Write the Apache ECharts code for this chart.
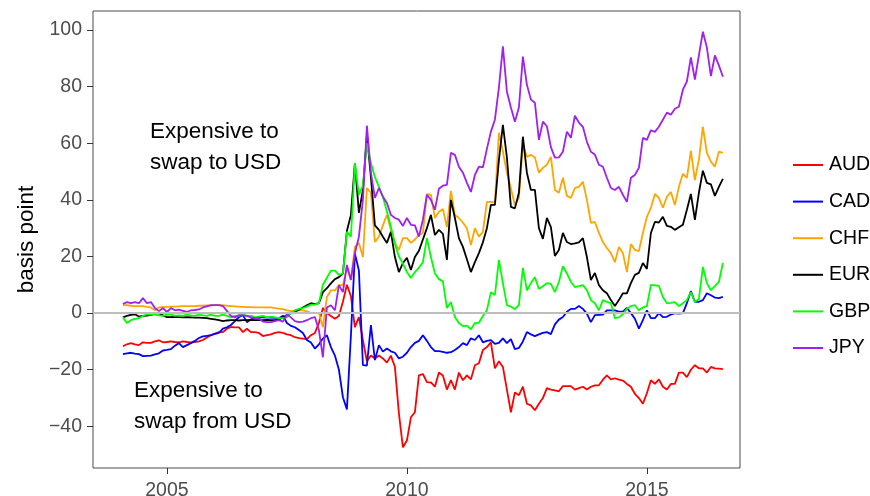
<!DOCTYPE html>
<html>
<head>
<meta charset="utf-8">
<title>Cross-currency basis</title>
<script src="https://cdn.jsdelivr.net/npm/echarts@6/dist/echarts.min.js"></script>
<style>
  html, body { margin: 0; padding: 0; background: #fff; }
  #chart { width: 870px; height: 496px; }
</style>
</head>
<body>
<div id="chart"></div>
<script>
// monthly basis, Jan 2004 .. Jul 2016 (month-end)
var startYear = 2004;
var currencies = ['AUD', 'CAD', 'CHF', 'EUR', 'GBP', 'JPY'];
var colors = ['#ff0000', '#0000ff', '#ffa500', '#000000', '#00ff00', '#a020f0'];
var xTicks = [2005, 2010, 2015];
var yTicks = [-40, -20, 0, 20, 40, 60, 80, 100];

var aud = [-11.7,-11,-10.6,-11,-11.3,-10.3,-10.5,-10.5,-10,-9.6,
  -10.3,-10.2,-10,-10.2,-10.3,-10,-10.2,-10.3,-10.2,-10,
  -9.5,-8.6,-7.8,-7.2,-6.7,-6.7,-5.5,-4.9,-5,-5,
  -6.7,-5.5,-6.7,-6.7,-7,-8.1,-7.8,-7.5,-7,-6.7,
  -7,-7.5,-7.8,-8.5,-8.8,-9,-9.2,-7.8,-7,-3.5,
  1.8,0,-1,-2,-1,4,10,6,-5,-1.4,
  -9.5,-17,-15,-16,-15,-16,-17.5,-15,-19,-35.4,
  -47.4,-45,-36.8,-35,-22,-21.5,-24.4,-24.5,-26,-21,
  -22,-27,-23.7,-27,-21,-23.7,-22,-23.4,-18.4,-17.7,
  -13,-12,-10.3,-19.5,-17,-19,-27,-35,-28,-29,
  -26,-32,-32.6,-34.3,-32,-30,-26.5,-27,-27.3,-27.6,
  -25.8,-25.8,-25.8,-27,-26.5,-26,-27,-26,-25.5,-25.5,
  -23.5,-22,-23.4,-23,-23.5,-23.8,-25,-26,-28.5,-30,
  -32,-28.3,-23.7,-25,-23.4,-26,-27,-25,-25,-21,
  -21,-22.6,-20,-18.4,-19.5,-19.5,-21,-19,-19.5,-19.6,
  -19.8];
var cad = [-14.5,-14.2,-14,-14.3,-14.5,-15.2,-15.1,-15,-14.6,-14.2,
  -13.2,-13,-12.7,-11.5,-10.6,-12,-11.3,-10.6,-9.8,-8.8,
  -8.2,-8,-7.8,-7.3,-7,-5.5,-5,-4.2,-2.8,-1.4,
  -0.7,-3.2,-2.2,-1.8,-1.4,-1.5,-1.6,-1.6,-1.7,-1.8,
  -0.9,-3.5,-4.5,-5,-6,-7,-9.5,-10.4,-12.5,-11,
  -9,-7.8,-12,-15,-20,-29.7,-34,-8,21,15,
  -18.4,-18.5,-4.2,-16.6,-11.3,-13.6,-12.5,-13.5,-14,-16,
  -15.4,-14,-12,-10.5,-9.8,-7.8,-9.8,-12,-13.4,-13.4,
  -13.7,-14,-13.8,-13,-12,-10.6,-11.3,-8.9,-9.5,-7.8,
  -10.3,-9.8,-9.5,-10.9,-10.5,-8.9,-10.6,-9.2,-12.7,-12.3,
  -10,-6.7,-7.5,-8.1,-7.5,-7,-6.7,-7.4,-4,-2.3,
  -1.4,0.5,1.5,1.5,2.5,1.5,-0.2,-3.2,-0.7,-0.6,
  -0.5,1,1,1,0.5,0.5,1.8,0,-2,-5.5,
  -2.5,1,-1.8,-1.8,0,-1.4,-1.3,-0.5,0,-0.2,
  0,3.5,7.8,4,4,4.6,7,6.3,5.5,5.3,
  5.7];
var chf = [2.8,2.8,2.6,2.5,2.5,2.5,2.2,2,1,2,
  2.1,2.2,2.3,2.3,2.4,2.5,2.5,2.5,2.5,2.6,
  2.6,2.7,2.7,2.8,2.8,2.8,2.6,2.5,2.4,2.3,
  2.2,2.1,2.1,2,2,2,2,2,1.8,1.6,
  1.4,1,0.7,0.8,1,1,0.6,0,0,0,
  -5,5.7,8,8,9.9,9.9,15.9,11.7,23.4,24.8,
  19.8,44.2,42.5,25.1,27,31,34.7,29.4,25,22.3,
  26.5,26.5,24.8,26,27.6,28.3,42,41.8,33.6,35.8,
  36.8,30.4,43.2,34.7,33.6,32,30,24,30,27,
  28.7,39.3,39.3,39,63.7,57,49.6,44,38.2,40.7,
  59.5,55.2,55.9,55,49.6,51.3,52.4,55.2,43.5,42.5,
  47.8,41.4,40.7,44.2,44.6,46.4,40,31.9,32.2,28.3,
  25.1,23,21.2,18,23.4,21.2,14.5,24.4,22.3,21.9,
  28.3,34,37.2,42.1,40.7,37.2,41.1,42.8,38.2,44.6,
  49.2,47.8,57.3,47,54.2,65.8,56.6,53.5,51.7,57,
  56.6];
var eur = [-1.5,-1,-0.6,-0.4,-1.2,-1,-0.9,-0.6,-0.3,0,
  -0.8,-1.4,-1.4,-1.3,-1.4,-1.5,-1.4,-1.5,-1.6,-1.6,
  -1.7,-1.8,-2,-2.2,-2.5,-2.8,-2.6,-2.5,-2.5,-2.6,
  -2.5,-2.5,-2.4,-2.5,-2.5,-2.5,-2.4,-2.5,-2.5,-2.3,
  -1.4,-0.8,0,0.5,1.2,2,2.8,3.5,3.2,3.5,
  7.4,8.8,10.5,12,12.7,14,29,34.7,53,35.4,
  43.5,63,48,31,29.4,27,24.8,28.7,19.8,14.5,
  17.7,19.5,15.2,19.8,22,26,30,34.7,27.6,29.4,
  28,18.8,40,33.6,26.5,23.4,19,14.5,18,21.2,
  25,30,38.2,38.2,54,66.5,55,37.5,37,42.5,
  62.3,49.6,43.5,43.5,30,26.2,33.6,30.4,20.2,22.3,
  28.3,25.1,24.4,24.6,25,26.5,19.8,11.7,14.2,9.9,
  8.1,7,4.6,2.5,4.6,7,7,10.6,13.5,14.2,
  17.7,15.6,28.3,32.2,32,34,30.8,30.5,29.4,30.3,
  31.2,36.5,42.1,32.9,42.5,50.3,46,45.5,41.4,44.6,
  47.4];
var gbp = [-1.5,-3.5,-2.5,-2,-1.8,-1,-0.4,-0.5,-0.5,-0.8,
  -1,-0.5,-0.5,-1,-0.8,-1,-0.5,-0.8,-1,-0.5,
  -0.8,-1,-0.5,-1,-1,-0.5,-1,-1.5,-1,-1,
  -0.5,-1,-1,-1.5,-1.2,-1,-1.5,-1.2,-1.5,-1.8,
  -1.8,-1.5,0,1,1.5,1.8,2.3,3,3,3.5,
  10,12.5,15,15,13.5,14,28.7,27,53,41.8,
  45,60,53,48,44.6,41,36,30.4,24.5,20,
  17.5,14.5,12.4,14.5,16,18,26.5,19.8,14,12,
  11.2,1.8,3.9,-1.4,-3.5,-4.6,-4.4,-5.7,-3.5,-3.4,
  -1,1,7.4,6.4,18.8,10.6,2.8,2.3,1.4,2.8,
  16,8,10.6,12.7,8.5,9.5,10.6,10.3,7.4,11,
  16.6,14,11,9.2,9.5,9.9,8.1,4.6,3.5,1,
  4.6,4,3.5,-1.8,-1.5,-0.4,1.5,2.5,2.8,1,
  2,2.5,10,9.8,9.6,5.7,3.5,3.6,3.9,2.5,
  3.5,4.6,7.4,3.9,5,16.3,10.6,8.1,9.5,11,
  17.7];
var jpy = [3.2,3.9,3.5,3.9,3.5,5.3,3.5,3.9,1.8,0.7,
  1.8,0.4,1.8,1,1.2,0.8,0.4,1,1.1,1.3,
  2,2.4,2.8,2.8,2.8,2.5,0.8,-1,-1.5,-0.7,
  -0.8,-1,-1.5,-1.8,-1.8,-3,-3.2,-3.2,-2.8,-2.5,
  -3,-0.5,-1.5,-2.8,-3.2,-3,-2.5,-1.8,-1.4,-6,
  -15.6,2,2.8,1,9.9,7.4,17,11.7,21.2,27,
  40,66.2,49.6,40.7,44.2,41.1,38.9,34.7,33.6,33,
  30.8,33.6,31.2,31,27,33,41.8,40,36.5,43.9,
  45,45.3,56.6,55.9,51.7,49.6,46,42.8,48.8,51.7,
  51.5,58,64.1,68.3,79.6,94.2,78.2,72.6,67.6,72.6,
  90.6,80.7,75.4,74.3,61.2,67.6,66,58.6,54.9,55,
  57,64.1,61.9,69.7,67.3,65.8,60.5,57,56,52.4,
  51.7,47.8,44.2,43.5,44.6,41.8,39.3,47.8,48.8,51.3,
  61.9,61.2,64.6,64,65.8,68.3,70.8,70.1,72.2,72.9,
  78.9,81.8,90.3,82.5,91,99.4,93.8,83.7,91,87.5,
  83.5];
var values = [aud, cad, chf, eur, gbp, jpy];

// decimal year of each month end
var dates = aud.map(function (v, i) { return startYear + (i + 1) / 12; });

var fontFamily = '"Liberation Sans", Arial, sans-serif';
var chart = echarts.init(document.getElementById('chart'), null, { renderer: 'canvas' });

var series = currencies.map(function (name, k) {
  var s = {
    name: name,
    type: 'line',
    data: values[k].map(function (v, i) { return [dates[i], v]; }),
    showSymbol: false,
    symbol: 'none',
    lineStyle: { width: 1.8, color: colors[k] },
    itemStyle: { color: colors[k] },
    animation: false
  };
  if (k === 0) {
    s.markLine = {
      silent: true,
      symbol: 'none',
      label: { show: false },
      lineStyle: { color: '#bebebe', width: 2, type: 'solid' },
      data: [{ yAxis: 0 }]
    };
  }
  return s;
});

var option = {
  backgroundColor: '#ffffff',
  animation: false,
  textStyle: { fontFamily: fontFamily },
  grid: {
    left: 93, right: 130, top: 11, bottom: 28,
    show: true, borderColor: '#4d4d4d', borderWidth: 1,
    containLabel: false,
    outerBoundsMode: 'none'
  },
  legend: {
    orient: 'vertical',
    left: 788,
    top: 150,
    icon: 'rect',
    itemWidth: 30,
    itemHeight: 2,
    itemGap: 16.6,
    data: currencies,
    textStyle: { fontSize: 19.5, color: '#000', fontFamily: fontFamily, lineHeight: 20, padding: [0, 0, 0, 1] }
  },
  xAxis: {
    type: 'value',
    min: 2003.46,
    max: 2016.94,
    splitLine: { show: false },
    axisLine: { show: false, onZero: false },
    axisTick: { show: true, length: 6, customValues: xTicks, lineStyle: { color: '#333' } },
    axisLabel: {
      customValues: xTicks, color: '#4d4d4d', fontSize: 19.5, margin: 13, fontFamily: fontFamily,
      formatter: function (v) { return String(v); }
    }
  },
  yAxis: {
    type: 'value',
    min: -54.7,
    max: 106.7,
    name: 'basis point',
    nameLocation: 'middle',
    nameGap: 54,
    nameTextStyle: { fontSize: 22.5, color: '#000', fontFamily: fontFamily },
    splitLine: { show: false },
    axisLine: { show: false, onZero: false },
    axisTick: { show: true, length: 6, customValues: yTicks, lineStyle: { color: '#333' } },
    axisLabel: {
      customValues: yTicks, color: '#4d4d4d', fontSize: 19.5, margin: 11, fontFamily: fontFamily,
      formatter: function (v) { return v < 0 ? '\u2212' + Math.abs(v) : String(v); }
    }
  },
  graphic: [
    {
      type: 'text', left: 150, top: 116,
      style: { text: 'Expensive to\nswap to USD', fill: '#000', font: '22.5px ' + fontFamily,
               align: 'center', lineHeight: 31 }
    },
    {
      type: 'text', left: 134, top: 375,
      style: { text: 'Expensive to\nswap from USD', fill: '#000', font: '22.5px ' + fontFamily,
               align: 'center', lineHeight: 31 }
    }
  ],
  series: series
};

chart.setOption(option);
</script>
</body>
</html>
